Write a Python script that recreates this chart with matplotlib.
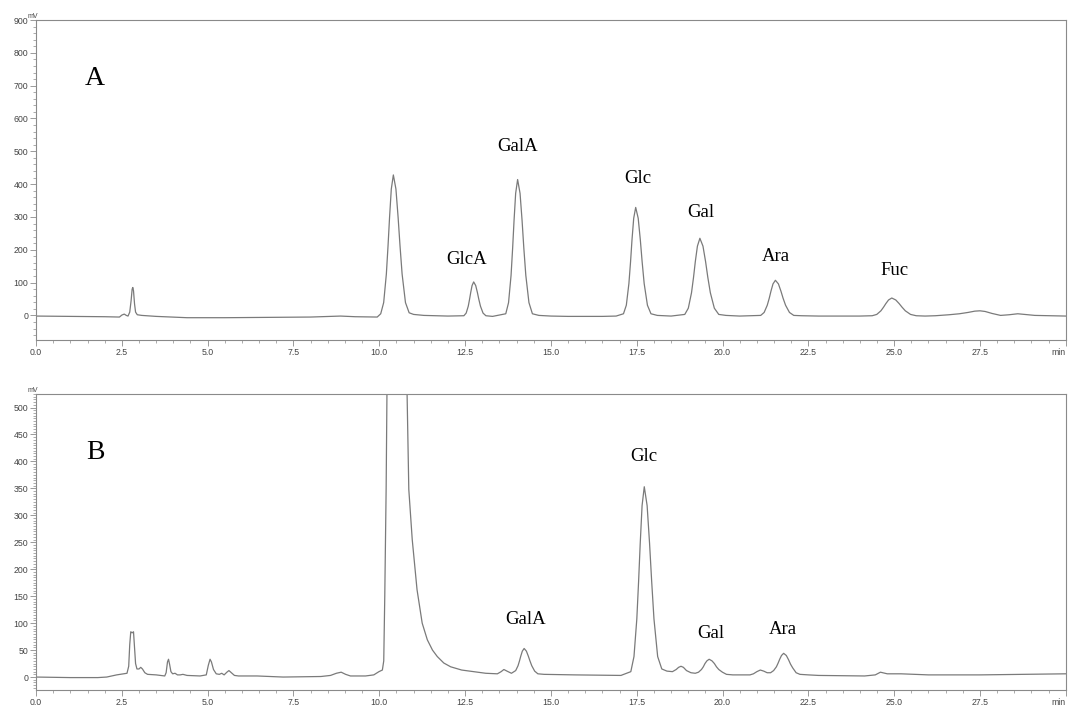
import matplotlib
matplotlib.use("Agg")
import matplotlib.pyplot as plt
from matplotlib.ticker import MultipleLocator

# ---- chromatogram A (standards) ----
time_a = [0.0, 1.0, 2.0, 2.43, 2.5, 2.57, 2.63, 2.68, 2.73, 2.77, 2.8, 2.82, 2.84, 2.87, 2.9, 2.95, 3.08,
          3.5, 4.4, 5.5, 6.73, 8.0, 8.87, 9.3, 9.94,
          10.042, 10.128, 10.206, 10.255, 10.299, 10.35, 10.41, 10.485, 10.549, 10.604, 10.665, 10.763,
          10.87, 11.0, 11.3, 12.0,
          12.465, 12.531, 12.592, 12.63, 12.664, 12.703, 12.75, 12.809, 12.858, 12.9, 12.948, 13.023,
          13.106, 13.3,
          13.685, 13.766, 13.839, 13.885, 13.926, 13.973, 14.03, 14.101, 14.16, 14.211, 14.269, 14.36,
          14.461, 14.65, 15.0, 15.5, 16.5, 16.9,
          17.114, 17.197, 17.272, 17.32, 17.362, 17.412, 17.47, 17.543, 17.605, 17.658, 17.717, 17.812,
          17.915, 18.1, 18.5,
          18.90, 19.003, 19.096, 19.155, 19.207, 19.268, 19.34, 19.43, 19.506, 19.571, 19.645, 19.761,
          19.89, 20.1, 20.5,
          21.112, 21.212, 21.303, 21.36, 21.411, 21.47, 21.54, 21.628, 21.701, 21.765, 21.836, 21.95,
          22.075, 22.3, 22.8, 24.0,
          24.36, 24.493, 24.614, 24.69, 24.758, 24.836, 24.93, 25.047, 25.145, 25.23, 25.325, 25.477,
          25.643, 25.9, 26.2,
          26.6, 26.9, 27.15, 27.35, 27.5, 27.65, 27.85, 28.1, 28.35, 28.6, 28.8, 29.1, 30.0]
signal_a = [-2, -3, -4, -5, 1, 4, 0, -2, 10, 45, 80, 85, 75, 35, 10, 2, 0,
            -3, -7, -7, -6, -5, -2, -4, -5,
            5, 39, 126, 212, 298, 385, 428, 385, 298, 212, 126, 39,
            8, 3, 0, -2,
            -1, 7, 28, 49, 70, 91, 102, 91, 70, 49, 28, 7,
            -1, -3,
            5, 39, 122, 205, 289, 372, 414, 372, 289, 205, 122, 39,
            5, 0, -2, -3, -3, -2,
            5, 31, 97, 163, 230, 296, 329, 296, 230, 163, 97, 31,
            5, 0, -2,
            3, 22, 69, 116, 164, 211, 235, 211, 164, 116, 69, 22,
            3, 0, -2,
            0, 9, 31, 52, 74, 96, 107, 96, 74, 52, 31, 9,
            0, -1, -2, -2,
            -1, 3, 14, 25, 36, 47, 53, 47, 36, 25, 14, 3,
            -1, -2, -1,
            2, 5, 9, 13, 14, 12, 6, 0, 2, 5, 3, 0, -2]

# ---- chromatogram B (sample) ----
time_b = [0.0, 1.0, 1.8, 2.06, 2.35, 2.65, 2.7, 2.73, 2.76, 2.8, 2.84, 2.87, 2.9, 2.94, 3.0, 3.05,
          3.1, 3.17, 3.25, 3.5, 3.75, 3.79, 3.83, 3.86, 3.89, 3.93, 3.98, 4.05, 4.12, 4.2, 4.28, 4.4,
          4.78, 4.96, 5.02, 5.07, 5.11, 5.17, 5.25, 5.34, 5.41, 5.48, 5.56, 5.62, 5.69, 5.78, 5.9,
          6.44, 7.2, 8.3, 8.58, 8.75, 8.89, 9.02, 9.16, 9.6, 9.84, 9.99,
          10.09, 10.13, 10.16, 10.2, 10.24, 10.3, 10.55, 10.75, 10.8, 10.86, 10.96, 11.1, 11.25,
          11.4, 11.55, 11.69, 11.88, 12.08, 12.4, 12.76, 13.1, 13.44, 13.55, 13.63, 13.72, 13.85,
          13.974, 14.042, 14.085, 14.123, 14.167, 14.22, 14.286, 14.341, 14.389, 14.442, 14.527,
          14.62, 14.8, 15.7, 17.04,
          17.328, 17.42, 17.503, 17.555, 17.602, 17.656, 17.72, 17.803, 17.874, 17.935, 18.002,
          18.11, 18.23, 18.38, 18.54, 18.65, 18.72, 18.79, 18.86, 18.95, 19.08, 19.206,
          19.3, 19.386, 19.44, 19.488, 19.544, 19.61, 19.693, 19.763, 19.823, 19.89, 19.997, 20.115,
          20.3, 20.8, 20.9, 21.0, 21.1, 21.2, 21.3, 21.4,
          21.488, 21.569, 21.62, 21.665, 21.718, 21.78, 21.858, 21.924, 21.98, 22.044, 22.144,
          22.255, 22.5, 22.8, 24.14, 24.45, 24.6, 24.8,
          25.2, 26.0, 27.5, 30.0]
signal_b = [0, -1, -1, 0, 4, 7, 20, 60, 84, 82, 84, 55, 25, 15, 15, 18,
            15, 8, 5, 4, 2, 8, 28, 33, 24, 10, 6, 7, 4, 4, 5, 3,
            2, 4, 22, 33, 28, 14, 6, 5, 7, 4, 9, 12, 8, 3, 2,
            2, 0, 1, 3, 7, 9, 5, 2, 2, 4, 10,
            13, 30, 150, 350, 650, 1200, 1800, 900, 560, 348, 255, 162, 100,
            69, 50, 38, 26, 19, 13, 10, 7, 6, 10, 14, 11, 7,
            12, 21, 30, 39, 48, 53, 48, 39, 30, 21, 11,
            6, 5, 4, 3,
            10, 38, 108, 178, 248, 318, 353, 318, 248, 178, 108,
            38, 15, 11, 10, 14, 18, 20, 18, 12, 8, 7,
            9, 14, 19, 25, 30, 33, 30, 25, 19, 14, 9, 5,
            4, 4, 6, 10, 13, 11, 8, 8,
            12, 19, 26, 33, 40, 44, 40, 32, 24, 17, 8,
            5, 4, 3, 2, 4, 9, 6,
            6, 4, 4, 6]

labels_a = ["GlcA", "GalA", "Glc", "Gal", "Ara", "Fuc"]
label_pos_a = [(12.54, 171), (14.03, 514), (17.52, 418), (19.37, 315), (21.56, 181), (25.0, 136)]
labels_b = ["GalA", "Glc", "Gal", "Ara"]
label_pos_b = [(14.25, 106), (17.72, 410), (19.66, 81), (21.77, 89)]

x_ticks = [0.0, 2.5, 5.0, 7.5, 10.0, 12.5, 15.0, 17.5, 20.0, 22.5, 25.0, 27.5, 30.0]
x_labels = ["0.0", "2.5", "5.0", "7.5", "10.0", "12.5", "15.0", "17.5", "20.0", "22.5", "25.0", "27.5", "min"]

line_col = "#7a7a7a"
axis_col = "#8a8a8a"
text_col = "#444444"
serif = ["Liberation Serif", "DejaVu Serif"]
sans = ["Liberation Sans", "DejaVu Sans"]

fig = plt.figure(figsize=(10.69, 7.05), dpi=100)
ax_a = fig.add_axes([0.0337, 0.5177, 0.9633, 0.4539])
ax_b = fig.add_axes([0.0337, 0.0213, 0.9633, 0.4198])


def style_axis(ax, ymin, ymax, ystep, yminor):
    ax.set_xlim(0, 30)
    ax.set_ylim(ymin, ymax)
    ax.set_xticks(x_ticks)
    ax.set_xticklabels(x_labels, family=sans)
    ax.get_xticklabels()[-1].set_horizontalalignment("right")
    ax.xaxis.set_minor_locator(MultipleLocator(0.5))
    ax.yaxis.set_major_locator(MultipleLocator(ystep))
    ax.yaxis.set_minor_locator(MultipleLocator(yminor))
    for lab in ax.get_yticklabels():
        lab.set_family(sans)
    ax.tick_params(which="major", length=4, width=0.6, color=axis_col,
                   labelsize=6.3, labelcolor=text_col, pad=1.5)
    ax.tick_params(which="minor", length=2, width=0.5, color=axis_col)
    for sp in ax.spines.values():
        sp.set_color(axis_col)
        sp.set_linewidth(0.8)
    ax.text(-0.1, ymax, "mV", fontsize=5, color=text_col, family=sans,
            ha="center", va="bottom")


ax_a.plot(time_a, signal_a, color=line_col, lw=0.9)
style_axis(ax_a, -75, 900, 100, 20)
ax_a.text(1.72, 722, "A", fontsize=20, family=serif, ha="center", va="center")
for name, (tx, ty) in zip(labels_a, label_pos_a):
    ax_a.text(tx, ty, name, fontsize=13.5, family=serif, ha="center", va="center")

ax_b.plot(time_b, signal_b, color=line_col, lw=0.9)
style_axis(ax_b, -24, 525, 50, 5)
ax_b.text(1.72, 416, "B", fontsize=20, family=serif, ha="center", va="center")
for name, (tx, ty) in zip(labels_b, label_pos_b):
    ax_b.text(tx, ty, name, fontsize=13.5, family=serif, ha="center", va="center")

fig.savefig("out.png", dpi=100)
